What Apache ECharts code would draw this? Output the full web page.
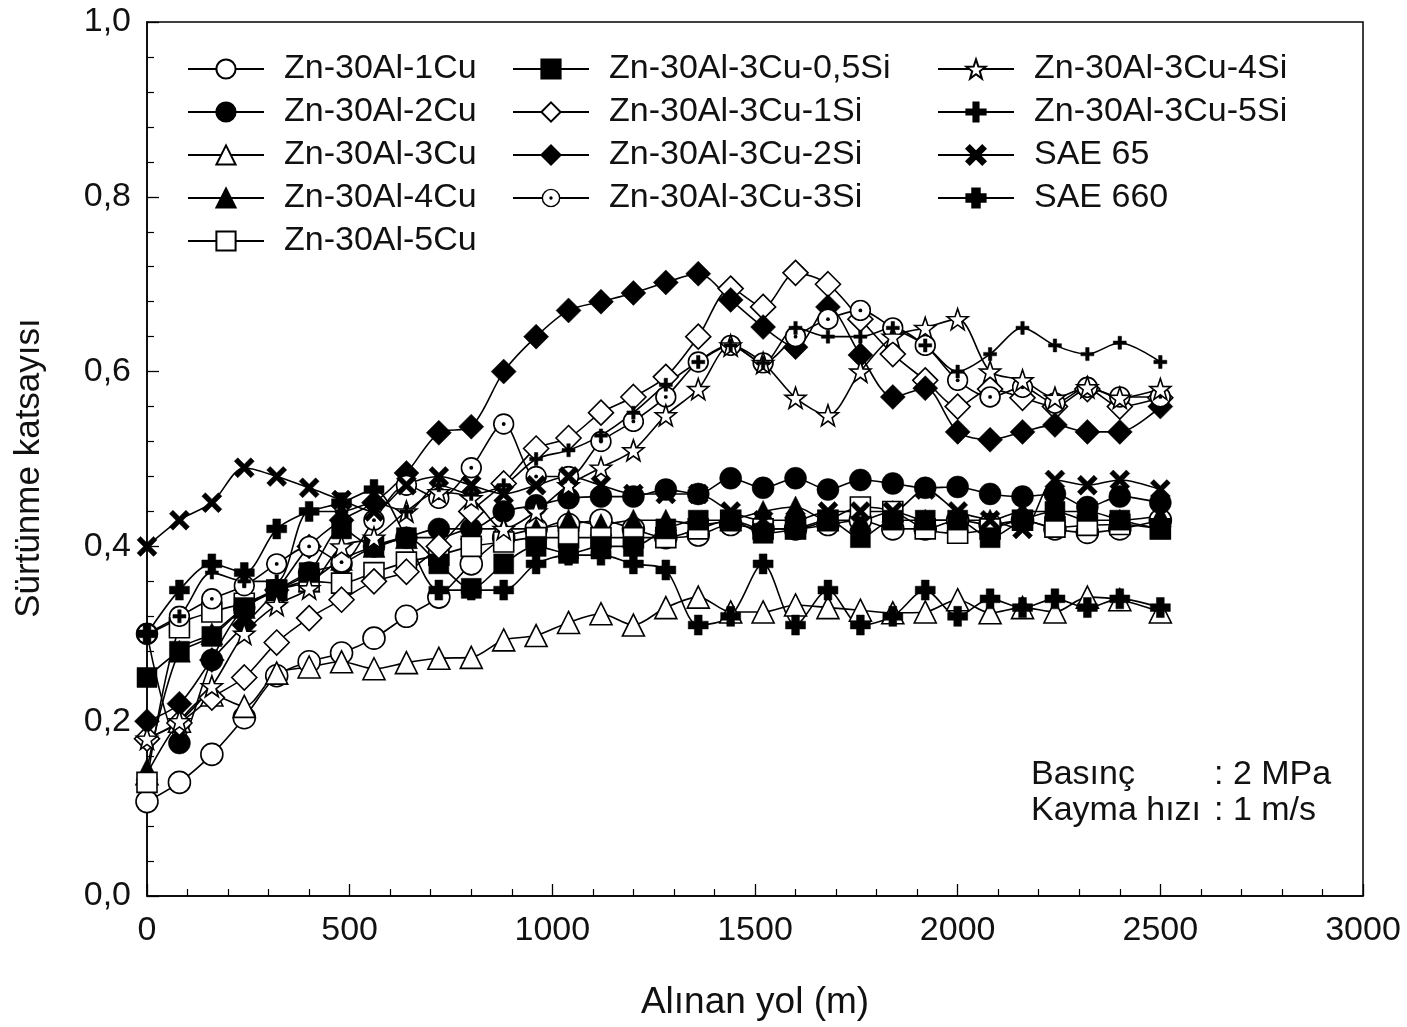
<!DOCTYPE html>
<html>
<head>
<meta charset="utf-8">
<script src="https://cdn.jsdelivr.net/npm/echarts@6/dist/echarts.min.js"></script>
<style>
  html, body { margin: 0; padding: 0; background: #fff; }
  #chart { width: 1407px; height: 1027px; }
</style>
</head>
<body>
<div id="chart"></div>
<script>
// Sliding distance (m)
const distance = [0, 80, 160, 240, 320, 400, 480, 560, 640, 720, 800, 880, 960, 1040, 1120, 1200,
  1280, 1360, 1440, 1520, 1600, 1680, 1760, 1840, 1920, 2000, 2080, 2160, 2240, 2320, 2400, 2500];

// Friction coefficient per alloy
const zn30al1cu = [0.108, 0.13, 0.162, 0.204, 0.252, 0.268, 0.278, 0.295, 0.32, 0.342, 0.38, 0.41, 0.42, 0.425, 0.43, 0.42,
  0.41, 0.413, 0.425, 0.42, 0.42, 0.425, 0.43, 0.42, 0.42, 0.43, 0.425, 0.43, 0.42, 0.416, 0.42, 0.43];
const zn30al2cu = [0.30, 0.175, 0.27, 0.33, 0.35, 0.37, 0.38, 0.40, 0.41, 0.42, 0.42, 0.44, 0.447, 0.455, 0.457, 0.457,
  0.465, 0.46, 0.478, 0.467, 0.478, 0.465, 0.476, 0.472, 0.467, 0.468, 0.46, 0.457, 0.46, 0.445, 0.457, 0.45];
const zn30al3cu = [0.14, 0.20, 0.23, 0.217, 0.255, 0.262, 0.268, 0.26, 0.267, 0.272, 0.273, 0.293, 0.298, 0.313, 0.323, 0.31,
  0.33, 0.342, 0.325, 0.325, 0.333, 0.33, 0.327, 0.324, 0.325, 0.339, 0.324, 0.33, 0.325, 0.342, 0.339, 0.325];
const zn30al4cu = [0.145, 0.28, 0.30, 0.33, 0.35, 0.36, 0.385, 0.40, 0.41, 0.41, 0.42, 0.42, 0.42, 0.43, 0.425, 0.43,
  0.43, 0.425, 0.43, 0.44, 0.445, 0.43, 0.43, 0.44, 0.43, 0.43, 0.43, 0.44, 0.44, 0.43, 0.43, 0.435];
const zn30al5cu = [0.13, 0.307, 0.325, 0.335, 0.35, 0.36, 0.358, 0.37, 0.382, 0.39, 0.40, 0.405, 0.41, 0.41, 0.41, 0.41,
  0.41, 0.42, 0.43, 0.42, 0.42, 0.43, 0.445, 0.44, 0.42, 0.415, 0.42, 0.43, 0.422, 0.424, 0.425, 0.42];
const zn30al3cu05si = [0.25, 0.28, 0.297, 0.33, 0.35, 0.37, 0.42, 0.40, 0.41, 0.38, 0.352, 0.38, 0.40, 0.392, 0.40, 0.40,
  0.42, 0.43, 0.43, 0.415, 0.42, 0.43, 0.41, 0.43, 0.43, 0.43, 0.41, 0.43, 0.44, 0.44, 0.43, 0.42];
const zn30al3cu1si = [0.18, 0.198, 0.227, 0.25, 0.29, 0.318, 0.339, 0.36, 0.371, 0.40, 0.44, 0.472, 0.512, 0.524, 0.553, 0.571,
  0.594, 0.64, 0.695, 0.674, 0.713, 0.70, 0.66, 0.62, 0.59, 0.56, 0.58, 0.57, 0.56, 0.58, 0.56, 0.57];
const zn30al3cu2si = [0.20, 0.22, 0.27, 0.31, 0.35, 0.40, 0.43, 0.45, 0.484, 0.53, 0.537, 0.60, 0.64, 0.67, 0.68, 0.69,
  0.702, 0.712, 0.682, 0.651, 0.628, 0.674, 0.619, 0.571, 0.581, 0.531, 0.522, 0.531, 0.539, 0.531, 0.531, 0.56];
const zn30al3cu3si = [0.30, 0.32, 0.34, 0.355, 0.38, 0.40, 0.382, 0.43, 0.47, 0.455, 0.49, 0.54, 0.48, 0.48, 0.52, 0.543,
  0.571, 0.611, 0.63, 0.61, 0.64, 0.66, 0.67, 0.65, 0.63, 0.59, 0.571, 0.582, 0.564, 0.582, 0.571, 0.571];
const zn30al3cu4si = [0.18, 0.20, 0.24, 0.30, 0.333, 0.352, 0.40, 0.41, 0.44, 0.462, 0.455, 0.42, 0.44, 0.47, 0.49, 0.51,
  0.55, 0.58, 0.63, 0.61, 0.57, 0.55, 0.60, 0.64, 0.65, 0.66, 0.60, 0.59, 0.57, 0.582, 0.57, 0.58];
const zn30al3cu5si = [0.30, 0.32, 0.37, 0.36, 0.36, 0.44, 0.44, 0.45, 0.44, 0.47, 0.46, 0.47, 0.50, 0.51, 0.527, 0.553,
  0.585, 0.611, 0.63, 0.61, 0.65, 0.64, 0.64, 0.65, 0.63, 0.60, 0.62, 0.65, 0.63, 0.62, 0.633, 0.611];
const sae65 = [0.40, 0.43, 0.45, 0.49, 0.48, 0.467, 0.453, 0.44, 0.47, 0.48, 0.47, 0.46, 0.47, 0.48, 0.47, 0.46,
  0.46, 0.46, 0.44, 0.43, 0.43, 0.44, 0.44, 0.44, 0.465, 0.44, 0.43, 0.42, 0.476, 0.47, 0.476, 0.465];
const sae660 = [0.30, 0.35, 0.38, 0.37, 0.42, 0.44, 0.45, 0.465, 0.41, 0.35, 0.35, 0.35, 0.38, 0.39, 0.39, 0.38,
  0.373, 0.31, 0.32, 0.38, 0.31, 0.35, 0.31, 0.32, 0.35, 0.32, 0.34, 0.33, 0.34, 0.33, 0.34, 0.33];

const xTicks = [0, 500, 1000, 1500, 2000, 2500, 3000];
const yTicks = [0, 0.2, 0.4, 0.6, 0.8, 1.0];

// Marker shapes
const dotCircleSvg = '<svg xmlns="http://www.w3.org/2000/svg" width="40" height="40" viewBox="0 0 40 40">' +
  '<circle cx="20" cy="20" r="18" fill="white" stroke="black" stroke-width="3"/>' +
  '<circle cx="20" cy="20" r="3.5" fill="black"/></svg>';
const DOT_CIRCLE = 'image://data:image/svg+xml;charset=utf-8,' + encodeURIComponent(dotCircleSvg);
const STAR = 'path://M0,-10L2.35,-3.24L9.51,-3.09L3.8,1.24L5.88,8.09L0,4L-5.88,8.09L-3.8,1.24L-9.51,-3.09L-2.35,-3.24Z';
const THIN_PLUS = 'path://M-1.6,-6H1.6V-1.6H6V1.6H1.6V6H-1.6V1.6H-6V-1.6H-1.6Z';
const CROSS_X = 'path://M-10,-6.5L-6.5,-10L0,-3.5L6.5,-10L10,-6.5L3.5,0L10,6.5L6.5,10L0,3.5L-6.5,10L-10,6.5L-3.5,0Z';
const FAT_PLUS = 'path://M-3.5,-9H3.5V-3.5H9V3.5H3.5V9H-3.5V3.5H-9V-3.5H-3.5Z';

const OPEN = '#ffffff';
const FILL = '#000000';

const seriesDefs = [
  { name: 'Zn-30Al-1Cu', values: zn30al1cu, symbol: 'circle', size: 22, fill: OPEN },
  { name: 'Zn-30Al-2Cu', values: zn30al2cu, symbol: 'circle', size: 22, fill: FILL },
  { name: 'Zn-30Al-3Cu', values: zn30al3cu, symbol: 'triangle', size: 22, fill: OPEN },
  { name: 'Zn-30Al-4Cu', values: zn30al4cu, symbol: 'triangle', size: 22, fill: FILL },
  { name: 'Zn-30Al-5Cu', values: zn30al5cu, symbol: 'rect', size: 20, fill: OPEN },
  { name: 'Zn-30Al-3Cu-0,5Si', values: zn30al3cu05si, symbol: 'rect', size: 20, fill: FILL },
  { name: 'Zn-30Al-3Cu-1Si', values: zn30al3cu1si, symbol: 'diamond', size: 25, fill: OPEN },
  { name: 'Zn-30Al-3Cu-2Si', values: zn30al3cu2si, symbol: 'diamond', size: 25, fill: FILL },
  { name: 'Zn-30Al-3Cu-3Si', values: zn30al3cu3si, symbol: DOT_CIRCLE, size: 22, fill: OPEN },
  { name: 'Zn-30Al-3Cu-4Si', values: zn30al3cu4si, symbol: STAR, size: 21, fill: OPEN },
  { name: 'Zn-30Al-3Cu-5Si', values: zn30al3cu5si, symbol: THIN_PLUS, size: 13, fill: FILL },
  { name: 'SAE 65', values: sae65, symbol: CROSS_X, size: 20, fill: FILL },
  { name: 'SAE 660', values: sae660, symbol: FAT_PLUS, size: 20, fill: FILL }
];

const series = seriesDefs.map(function (s) {
  return {
    name: s.name,
    type: 'line',
    data: distance.map(function (d, i) { return [d, s.values[i]]; }),
    smooth: 0.3,
    symbol: s.symbol,
    symbolSize: s.size,
    showSymbol: true,
    lineStyle: { color: '#000', width: 1.6 },
    itemStyle: { color: s.fill, borderColor: '#000', borderWidth: s.fill === OPEN ? 1.6 : 0.5 },
    emphasis: { disabled: true },
    silent: true
  };
});

const FONT = '"Liberation Sans", Arial, sans-serif';
const legendBase = {
  orient: 'vertical',
  top: 52,
  padding: 0,
  itemWidth: 76,
  itemHeight: 24,
  itemGap: 9,
  selectedMode: false,
  textStyle: { fontFamily: FONT, fontSize: 34, color: '#111', padding: [0, 0, 0, 15] }
};

const chart = echarts.init(document.getElementById('chart'), null, { renderer: 'canvas' });
chart.setOption({
  animation: false,
  backgroundColor: '#fff',
  grid: { left: 147, right: 44, top: 22, bottom: 131, show: true, borderColor: '#000', borderWidth: 1.5, backgroundColor: 'transparent' },
  legend: [
    Object.assign({}, legendBase, { left: 187, data: seriesDefs.slice(0, 5).map(function (s) { return s.name; }) }),
    Object.assign({}, legendBase, { left: 512, data: seriesDefs.slice(5, 9).map(function (s) { return s.name; }) }),
    Object.assign({}, legendBase, { left: 937, data: seriesDefs.slice(9).map(function (s) { return s.name; }) })
  ],
  xAxis: {
    type: 'value',
    min: xTicks[0],
    max: xTicks[xTicks.length - 1],
    interval: 500,
    name: 'Alınan yol (m)',
    nameLocation: 'middle',
    nameGap: 88,
    nameTextStyle: { fontFamily: FONT, fontSize: 37, color: '#111' },
    axisLine: { show: true, lineStyle: { color: '#000', width: 1.5 } },
    axisTick: { show: true, inside: true, length: 12, lineStyle: { color: '#000', width: 1.3 } },
    minorTick: { show: true, splitNumber: 5, length: 7, lineStyle: { color: '#000', width: 1.2 } },
    axisLabel: { fontFamily: FONT, fontSize: 34, color: '#111', margin: 18, formatter: function (v) { return String(v); } },
    splitLine: { show: false }
  },
  yAxis: {
    type: 'value',
    min: yTicks[0],
    max: yTicks[yTicks.length - 1],
    interval: 0.2,
    name: 'Sürtünme katsayısı',
    nameLocation: 'middle',
    nameGap: 100,
    nameTextStyle: { fontFamily: FONT, fontSize: 35, color: '#111', padding: [0, 18, 0, 0] },
    axisLine: { show: true, lineStyle: { color: '#000', width: 1.5 } },
    axisTick: { show: true, inside: true, length: 12, lineStyle: { color: '#000', width: 1.3 } },
    minorTick: { show: true, splitNumber: 5, length: 7, lineStyle: { color: '#000', width: 1.2 } },
    axisLabel: {
      fontFamily: FONT, fontSize: 34, color: '#111', margin: 16,
      formatter: function (v) { return v.toFixed(1).replace('.', ','); }
    },
    splitLine: { show: false }
  },
  graphic: [
    { type: 'text', left: 1031, top: 758, style: { text: 'Basınç', font: '34px ' + FONT, fill: '#111' } },
    { type: 'text', left: 1214, top: 758, style: { text: ': 2 MPa', font: '34px ' + FONT, fill: '#111' } },
    { type: 'text', left: 1031, top: 794, style: { text: 'Kayma hızı', font: '34px ' + FONT, fill: '#111' } },
    { type: 'text', left: 1214, top: 794, style: { text: ': 1 m/s', font: '34px ' + FONT, fill: '#111' } }
  ],
  series: series
});
</script>
</body>
</html>
